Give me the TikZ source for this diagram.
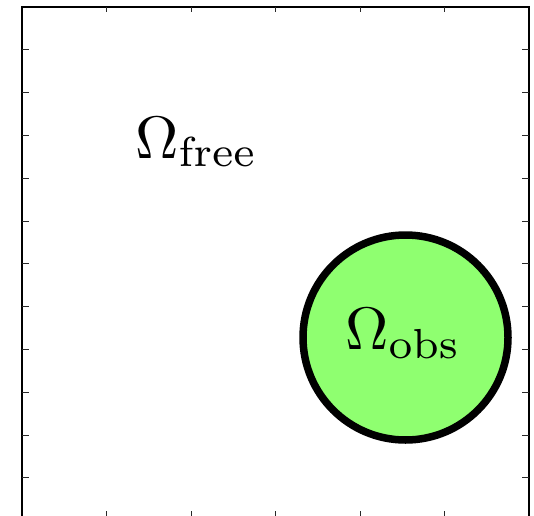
\documentclass[tikz,border=0pt]{standalone}
\usepackage{graphicx}
\usepackage{amsmath}
\definecolor{obsgreen}{RGB}{143,255,112}
\definecolor{tickgray}{RGB}{40,40,40}
\begin{document}
\begin{tikzpicture}[x=1pt,y=1pt,
  frame/.style={line width=1.6pt,black},
  tickmark/.style={line width=1pt,tickgray},
  obstacle/.style={circle,draw=black,line width=7.5pt,fill=obsgreen,minimum size=205pt,inner sep=0pt},
  lbl/.style={inner sep=0pt,anchor=base west}]
\useasboundingbox (0,0) rectangle (534,515);
\clip (0,0) rectangle (534,515);
\fill[white] (0,0) rectangle (534,515);
% frame
\draw[frame] (22,-6) rectangle (529,508);
% left/right ticks
\foreach \k in {1,...,11} {
  \pgfmathsetmacro{\yy}{508-42.8*\k}
  \draw[tickmark] (22,\yy) -- (29,\yy);
  \draw[tickmark] (529,\yy) -- (522,\yy);
}
% top/bottom ticks
\foreach \k in {1,...,5} {
  \pgfmathsetmacro{\xx}{22+84.5*\k}
  \draw[tickmark] (\xx,508) -- (\xx,503);
  \draw[tickmark] (\xx,-6) -- (\xx,4);
}
\node[obstacle] (obs) at (405.5,177.5) {};
\node[lbl] (free) at (135,357) {\scalebox{6}{$\Omega_{\mathrm{free}}$}};
\node[lbl] (obslbl) at (345,166) {\scalebox{6}{$\Omega_{\mathrm{obs}}$}};
\end{tikzpicture}
\end{document}
